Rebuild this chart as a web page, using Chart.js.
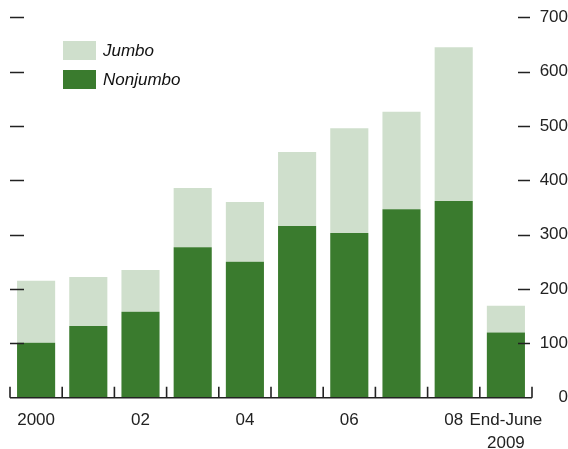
<!DOCTYPE html>
<html>
<head>
<meta charset="utf-8">
<script src="https://cdn.jsdelivr.net/npm/chart.js@4/dist/chart.umd.min.js"></script>
<style>
  html, body { margin: 0; padding: 0; background: #fff; }
  #wrap { width: 568px; height: 449px; }
</style>
</head>
<body>
<div id="wrap"><canvas id="grafico" width="568" height="449"></canvas></div>
<script>
const anos = ["2000", "01", "02", "03", "04", "05", "06", "07", "08", "End-June 2009"];
const rotulosX = ["2000", "", "02", "", "04", "", "06", "", "08", ["End-June", "2009"]];
const nonjumbo = [101, 132, 158, 277, 250, 316, 303, 347, 362, 120];
const jumbo = [114, 90, 77, 109, 110, 136, 193, 179, 283, 49];
const ticksY = [0, 100, 200, 300, 400, 500, 600, 700];

const FONTE = "'Liberation Sans', Arial, sans-serif";
const COR_TXT = "#222";

const marcas = {
    id: "marcas",
    afterDraw(chart) {
        const ctx = chart.ctx;
        const a = chart.chartArea;
        const y = chart.scales.y;
        ctx.save();
        ctx.strokeStyle = COR_TXT;
        ctx.lineWidth = 1.3;
        // tracinhos dos dois lados
        ticksY.filter(v => v > 0).forEach(v => {
            const py = Math.round(y.getPixelForValue(v)) + 0.5;
            ctx.beginPath();
            ctx.moveTo(a.left, py); ctx.lineTo(a.left + 14, py);
            ctx.moveTo(a.right - 14, py); ctx.lineTo(a.right - 2, py);
            ctx.stroke();
        });
        // linha base e divisores
        ctx.lineWidth = 1.6;
        ctx.beginPath();
        ctx.moveTo(a.left, a.bottom); ctx.lineTo(a.right, a.bottom);
        const passo = (a.right - a.left) / anos.length;
        for (let i = 0; i <= anos.length; i++) {
            const px = a.left + i * passo;
            ctx.moveTo(px, a.bottom); ctx.lineTo(px, a.bottom - 11);
        }
        ctx.stroke();

        // legenda
        const itens = [chart.data.datasets[1], chart.data.datasets[0]];
        ctx.font = "italic 17px " + FONTE;
        ctx.textBaseline = "middle";
        itens.forEach((ds, i) => {
            const top = 41 + i * 29;
            ctx.fillStyle = ds.backgroundColor;
            ctx.fillRect(63, top, 33, 19);
            ctx.fillStyle = "#111";
            ctx.fillText(ds.label, 103, top + 10);
        });
        ctx.restore();
    }
};

new Chart(document.getElementById("grafico"), {
    type: "bar",
    data: {
        labels: anos,
        datasets: [
            { label: "Nonjumbo", data: nonjumbo, backgroundColor: "#3a7b2e" },
            { label: "Jumbo", data: jumbo, backgroundColor: "#cfdfcc" }
        ]
    },
    options: {
        responsive: false,
        animation: false,
        layout: { padding: { left: 10, top: 17.3, right: 0, bottom: 0 } },
        datasets: { bar: { categoryPercentage: 1, barPercentage: 0.73 } },
        plugins: { legend: { display: false }, tooltip: { enabled: false } },
        scales: {
            x: {
                stacked: true,
                offset: true,
                grid: { display: false },
                border: { display: false },
                afterFit: s => { s.height = 51.3; },
                ticks: {
                    autoSkip: false,
                    maxRotation: 0,
                    padding: 4,
                    color: COR_TXT,
                    font: { family: FONTE, size: 17, lineHeight: 1.3 },
                    callback: (v, i) => rotulosX[i]
                }
            },
            y: {
                stacked: true,
                position: "right",
                min: 0,
                max: 700,
                grid: { display: false },
                border: { display: false },
                afterFit: s => { s.width = 36; },
                afterBuildTicks: s => { s.ticks = ticksY.map(v => ({ value: v })); },
                ticks: {
                    crossAlign: "far",
                    padding: 2,
                    color: COR_TXT,
                    font: { family: FONTE, size: 17 }
                }
            }
        }
    },
    plugins: [marcas]
});
</script>
</body>
</html>
